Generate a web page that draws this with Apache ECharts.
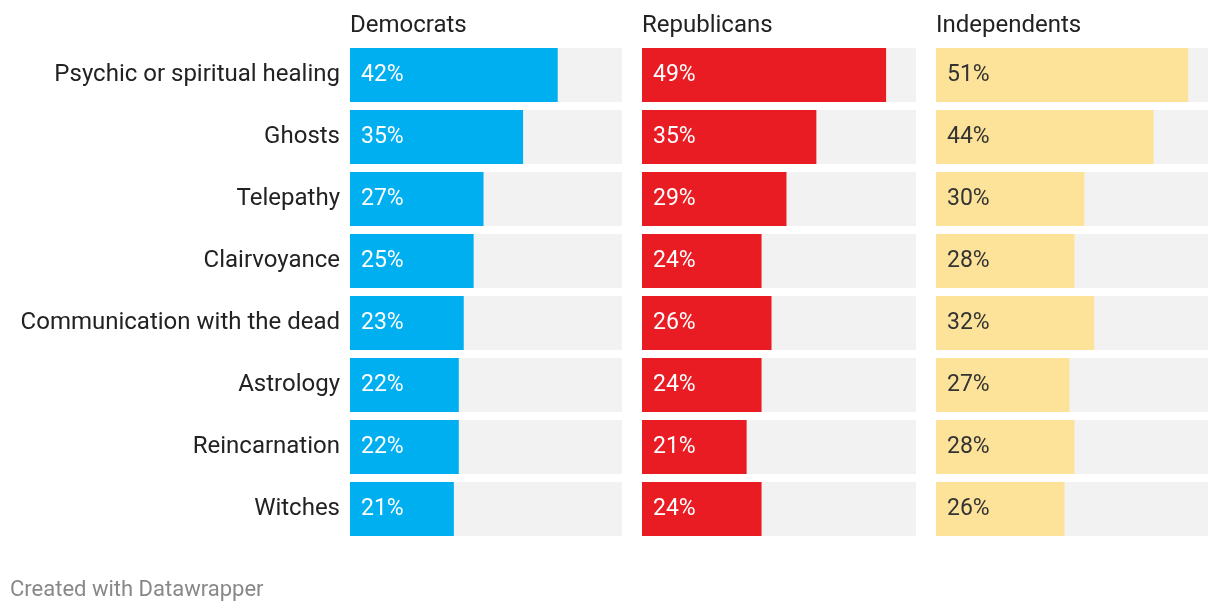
<!DOCTYPE html>
<html><head><meta charset="utf-8">
<script src="https://cdn.jsdelivr.net/npm/echarts@6/dist/echarts.min.js"></script>
<style>html,body{margin:0;padding:0;background:#fff}#c{width:1220px;height:612px}</style>
</head><body><div id="c"></div>
<script>
var categories = ["Psychic or spiritual healing","Ghosts","Telepathy","Clairvoyance","Communication with the dead","Astrology","Reincarnation","Witches"];
var groups = ["Democrats","Republicans","Independents"];
var democrats = [42,35,27,25,23,22,22,21];
var republicans = [49,35,29,24,26,24,21,24];
var independents = [51,44,30,28,32,27,28,26];
var axisMax = 55;

var values = [democrats, republicans, independents];
var colors = ["#00aff0", "#e91c24", "#fde39a"];
var labelColors = ["#ffffff", "#ffffff", "#333333"];
var panels = [{left:350,width:272},{left:642,width:274},{left:936,width:272}];
var font = "Roboto, 'Noto Sans', sans-serif";

var chart = echarts.init(document.getElementById('c'));
var grids = [], xAxes = [], yAxes = [], series = [], titles = [];
panels.forEach(function(p, i){
  grids.push({left:p.left, width:p.width, top:44, height:496});
  xAxes.push({type:'value', gridIndex:i, min:0, max:axisMax, show:false});
  yAxes.push({type:'category', gridIndex:i, data:categories, inverse:true,
    axisLine:{show:false}, axisTick:{show:false}, splitLine:{show:false},
    axisLabel:{show:i===0, margin:10, color:'#222', fontSize:24, fontFamily:font}});
  series.push({type:'bar', xAxisIndex:i, yAxisIndex:i, data:values[i], barWidth:54,
    itemStyle:{color:colors[i]}, showBackground:true, backgroundStyle:{color:'#f2f2f2'},
    label:{show:true, position:'insideLeft', distance:11, color:labelColors[i], fontSize:23, fontFamily:font,
      formatter:function(d){return d.value + '%';}},
    silent:true, animation:false});
  titles.push({text:groups[i], left:p.left, top:14, padding:0, textStyle:{color:'#222', fontSize:24, fontWeight:'normal', fontFamily:font}});
});
titles.push({text:'Created with Datawrapper', left:10, top:579, padding:0, textStyle:{color:'#888', fontSize:22, fontWeight:'normal', fontFamily:font}});

chart.setOption({animation:false, title:titles, grid:grids, xAxis:xAxes, yAxis:yAxes, series:series});
</script></body></html>
